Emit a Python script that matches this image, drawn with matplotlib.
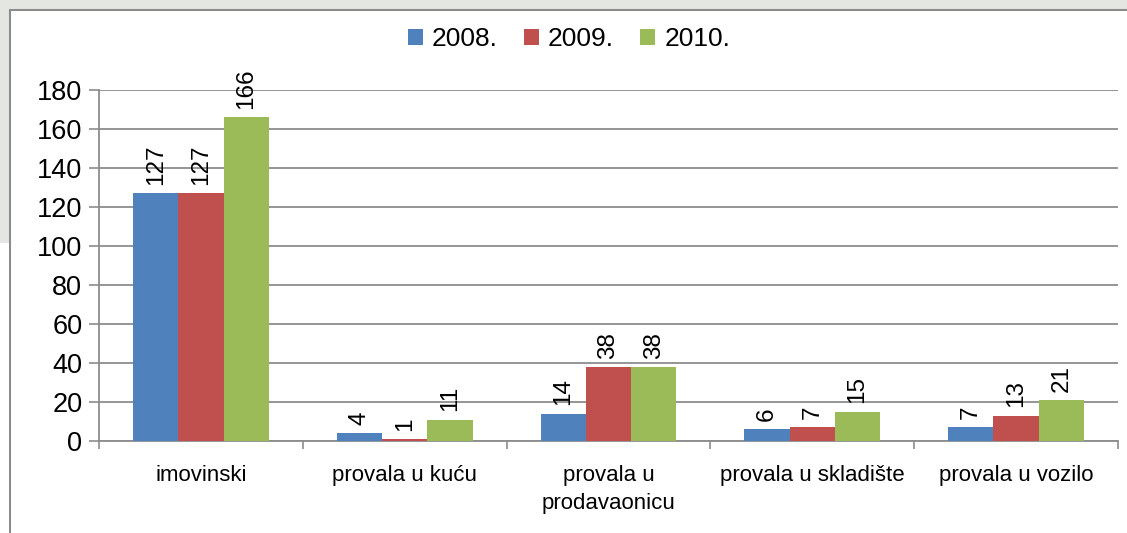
import matplotlib

matplotlib.use("Agg")
import numpy as np
import matplotlib.pyplot as plt
from matplotlib.patches import Rectangle

plt.rcParams["font.family"] = ["Liberation Sans", "DejaVu Sans"]

categories = ["imovinski", "provala u kuću", "provala u\nprodavaonicu",
              "provala u skladište", "provala u vozilo"]
years = ["2008.", "2009.", "2010."]
v2008 = [127, 4, 14, 6, 7]
v2009 = [127, 1, 38, 7, 13]
v2010 = [166, 11, 38, 15, 21]
series = [v2008, v2009, v2010]
colors = ["#4F81BD", "#C0504D", "#9BBB59"]
yticks = [0, 20, 40, 60, 80, 100, 120, 140, 160, 180]

W, H = 1127, 533
fig = plt.figure(figsize=(W / 100, H / 100), dpi=100)
fig.patch.set_facecolor("#e3e6e1")

# white chart frame over the textured background
fig.patches.append(Rectangle((10 / W, -0.1), 1, 1.1 - 10 / H, transform=fig.transFigure,
                             facecolor="white", edgecolor="#8c8c8c", linewidth=1.5,
                             zorder=-10))
fig.patches.append(Rectangle((0, 0), 9 / W, 1 - 243 / H, transform=fig.transFigure,
                             facecolor="white", edgecolor="none", zorder=-10))

ax = fig.add_axes([99 / W, 1 - 441 / H, (1118 - 99) / W, (441 - 90) / H])
ax.set_facecolor("none")

x = np.arange(len(categories))
bw = 0.222
for i, (vals, yr, c) in enumerate(zip(series, years, colors)):
    pos = x + (i - 1) * bw
    bars = ax.bar(pos, vals, bw, color=c, label=yr, zorder=3)
    for b, v in zip(bars, vals):
        ax.annotate(str(v), (b.get_x() + b.get_width() / 2, v), xytext=(0, 6),
                    textcoords="offset points", ha="center", va="bottom",
                    rotation=90, fontsize=17.5, color="black")

ax.set_xlim(-0.5, len(categories) - 0.5)
ax.set_ylim(0, 180)
ax.set_yticks(yticks)
ax.tick_params(axis="y", labelsize=19.5, length=7, width=1.2, color="#8c8c8c", pad=5)
ax.yaxis.grid(True, color="#8c8c8c", linewidth=1.3, zorder=0)
ax.set_axisbelow(True)

ax.set_xticks(x)
ax.set_xticklabels(categories, fontsize=16, linespacing=1.45)
ax.tick_params(axis="x", length=0, pad=17)
ax.set_xticks(np.arange(len(categories) + 1) - 0.5, minor=True)
ax.tick_params(axis="x", which="minor", length=6, width=1.2, color="#8c8c8c")

for s in ["top", "right"]:
    ax.spines[s].set_visible(False)
for s in ["left", "bottom"]:
    ax.spines[s].set_color("#8c8c8c")
    ax.spines[s].set_linewidth(1.3)

ax.legend(loc="center", bbox_to_anchor=(0.505, 1 - 39 / H), bbox_transform=fig.transFigure,
          ncol=3, frameon=False, fontsize=19, handlelength=0.55, handleheight=0.55,
          handletextpad=0.35, columnspacing=1.0)

fig.savefig("out.png", dpi=100, facecolor=fig.get_facecolor())
